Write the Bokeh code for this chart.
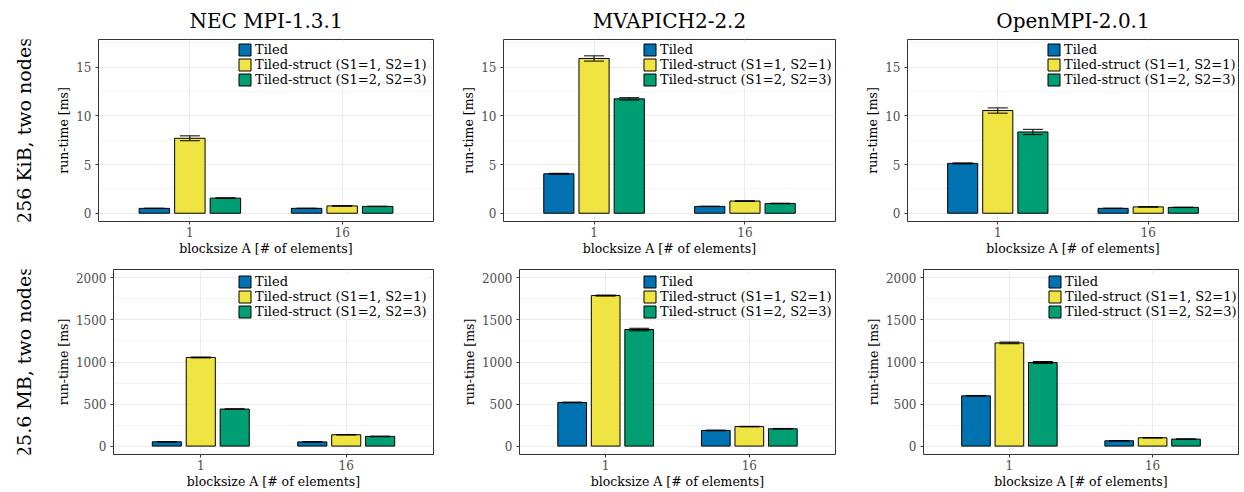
import math
from bokeh.plotting import figure
from bokeh.models import ColumnDataSource, FixedTicker, Whisker, TeeHead, Range1d
from bokeh.layouts import column, row
from bokeh.transform import dodge
from bokeh.embed import file_html
from bokeh.resources import INLINE
from bokeh.core.properties import value

# ---------------- data ----------------
blocksizes = ["1", "16"]
series = ["Tiled", "Tiled-struct (S1=1, S2=1)", "Tiled-struct (S1=2, S2=3)"]
colors = ["#0072B2", "#F0E442", "#009E73"]
libraries = ["NEC MPI-1.3.1", "MVAPICH2-2.2", "OpenMPI-2.0.1"]
row_labels = ["256 KiB, two nodes", "25.6 MB, two nodes"]
x_label = "blocksize A [# of elements]"
y_label = "run-time [ms]"

# 256 KiB, two nodes (mean run-time in ms per blocksize, and error half-width)
nec_256k_tiled = [0.50, 0.50]
nec_256k_s11 = [7.70, 0.75]
nec_256k_s23 = [1.55, 0.70]
nec_256k_err_tiled = [0.02, 0.02]
nec_256k_err_s11 = [0.25, 0.03]
nec_256k_err_s23 = [0.04, 0.02]

mva_256k_tiled = [4.05, 0.70]
mva_256k_s11 = [15.90, 1.25]
mva_256k_s23 = [11.75, 1.00]
mva_256k_err_tiled = [0.05, 0.02]
mva_256k_err_s11 = [0.27, 0.03]
mva_256k_err_s23 = [0.12, 0.03]

ompi_256k_tiled = [5.12, 0.50]
ompi_256k_s11 = [10.55, 0.65]
ompi_256k_s23 = [8.35, 0.60]
ompi_256k_err_tiled = [0.05, 0.02]
ompi_256k_err_s11 = [0.27, 0.02]
ompi_256k_err_s23 = [0.27, 0.02]

# 25.6 MB, two nodes
nec_25m_tiled = [51, 50]
nec_25m_s11 = [1054, 135]
nec_25m_s23 = [440, 115]
nec_25m_err_tiled = [3, 3]
nec_25m_err_s11 = [5, 3]
nec_25m_err_s23 = [4, 3]

mva_25m_tiled = [519, 186]
mva_25m_s11 = [1790, 232]
mva_25m_s23 = [1386, 206]
mva_25m_err_tiled = [4, 4]
mva_25m_err_s11 = [6, 3]
mva_25m_err_s23 = [15, 4]

ompi_25m_tiled = [598, 63]
ompi_25m_s11 = [1227, 99]
ompi_25m_s23 = [994, 83]
ompi_25m_err_tiled = [4, 3]
ompi_25m_err_s11 = [10, 3]
ompi_25m_err_s23 = [12, 3]

yticks_256k = [0, 5, 10, 15]
yminor_256k = [2.5, 7.5, 12.5, 17.5]
yrange_256k = (-0.85, 17.85)
yticks_25m = [0, 500, 1000, 1500, 2000]
yminor_25m = [250, 750, 1250, 1750]
yrange_25m = (-100, 2100)

panels = [
    [
        ((nec_256k_tiled, nec_256k_s11, nec_256k_s23), (nec_256k_err_tiled, nec_256k_err_s11, nec_256k_err_s23)),
        ((mva_256k_tiled, mva_256k_s11, mva_256k_s23), (mva_256k_err_tiled, mva_256k_err_s11, mva_256k_err_s23)),
        ((ompi_256k_tiled, ompi_256k_s11, ompi_256k_s23), (ompi_256k_err_tiled, ompi_256k_err_s11, ompi_256k_err_s23)),
    ],
    [
        ((nec_25m_tiled, nec_25m_s11, nec_25m_s23), (nec_25m_err_tiled, nec_25m_err_s11, nec_25m_err_s23)),
        ((mva_25m_tiled, mva_25m_s11, mva_25m_s23), (mva_25m_err_tiled, mva_25m_err_s11, mva_25m_err_s23)),
        ((ompi_25m_tiled, ompi_25m_s11, ompi_25m_s23), (ompi_25m_err_tiled, ompi_25m_err_s11, ompi_25m_err_s23)),
    ],
]
row_axes = [(yticks_256k, yminor_256k, yrange_256k), (yticks_25m, yminor_25m, yrange_25m)]

# ---------------- layout geometry ----------------
FONT = "DejaVu Serif"
LABEL_W = 35
row_heights = [258, 234]
row_borders = [(38, 36), (11, 38)]          # (top, bottom)
col_widths = [423, 404, 382]
col_borders = [
    [(63, 25), (42, 27), (41, 6)],
    [(78, 25), (58, 27), (56, 6)],
]
offsets = [-0.7 / 3, 0.0, 0.7 / 3]
GRID = "#EBEBEB"
LEG_ROW = 15


def make_panel(r, c):
    means, errs = panels[r][c]
    yticks, yminor, yrange = row_axes[r]
    top, bottom = row_borders[r]
    left, right = col_borders[r][c]
    W, H = col_widths[c], row_heights[r]
    frame_w = W - left - right
    frame_h = H - top - bottom

    p = figure(width=W, height=H, x_range=Range1d(0.4, 2.6), y_range=Range1d(*yrange),
               output_backend="svg", toolbar_location=None,
               min_border_left=left, min_border_right=right,
               min_border_top=top, min_border_bottom=bottom)
    p.background_fill_color = "white"
    p.border_fill_color = "white"
    p.outline_line_color = "#333333"
    p.outline_line_width = 1

    data = {"x": [i + 1 for i in range(len(blocksizes))]}
    for i in range(3):
        data[f"m{i}"] = means[i]
        data[f"lo{i}"] = [m - e for m, e in zip(means[i], errs[i])]
        data[f"hi{i}"] = [m + e for m, e in zip(means[i], errs[i])]
    src = ColumnDataSource(data)

    for i in range(3):
        p.vbar(x=dodge("x", offsets[i], range=p.x_range), top=f"m{i}", bottom=0, width=0.2,
               source=src, fill_color=colors[i], line_color="black", line_width=1,
               legend_label=series[i])
    for i in range(3):
        w = Whisker(source=src, base=dodge("x", offsets[i], range=p.x_range),
                    upper=f"hi{i}", lower=f"lo{i}", line_color="black", line_width=1,
                    level="annotation")
        w.upper_head = TeeHead(size=20, line_color="black", line_width=1)
        w.lower_head = TeeHead(size=20, line_color="black", line_width=1)
        p.add_layout(w)

    # axes
    p.xaxis.ticker = FixedTicker(ticks=[1, 2])
    p.xaxis.major_label_overrides = {i + 1: b for i, b in enumerate(blocksizes)}
    p.yaxis.ticker = FixedTicker(ticks=yticks, minor_ticks=yminor)
    for ax in (p.xaxis[0], p.yaxis[0]):
        ax.axis_line_color = None
        ax.major_tick_line_color = "#333333"
        ax.major_tick_in = 0
        ax.major_tick_out = 3
        ax.minor_tick_line_color = None
        ax.major_label_text_font = FONT
        ax.major_label_text_font_size = "12px"
        ax.major_label_text_color = "#4D4D4D"
        ax.major_label_standoff = 3
        ax.axis_label_text_font = FONT
        ax.axis_label_text_font_size = "12.5px"
        ax.axis_label_text_font_style = "normal"
        ax.axis_label_text_color = "black"
    p.xaxis.axis_label = x_label
    p.xaxis.major_label_standoff = 2
    p.xaxis.axis_label_standoff = 1
    p.yaxis.axis_label = y_label
    p.yaxis.axis_label_standoff = 2

    # grids
    p.xgrid.ticker = FixedTicker(ticks=[1, 2])
    p.xgrid.grid_line_color = GRID
    p.xgrid.grid_line_width = 1
    p.ygrid.grid_line_color = GRID
    p.ygrid.grid_line_width = 1
    p.ygrid.minor_grid_line_color = GRID
    p.ygrid.minor_grid_line_width = 0.6

    # legend (location = bottom-left corner of legend box, measured from frame's bottom-left)
    lg = p.legend[0]
    lg.location = (frame_w - 196, frame_h - 5 - 3 * LEG_ROW)
    lg.padding = 0
    lg.margin = 0
    lg.spacing = 0
    lg.border_line_color = None
    lg.background_fill_color = "white"
    lg.background_fill_alpha = 1
    lg.glyph_width = 15
    lg.glyph_height = LEG_ROW
    lg.label_height = LEG_ROW
    lg.label_standoff = 3
    lg.label_text_font = FONT
    lg.label_text_font_size = "13px"
    lg.label_text_color = "black"
    lg.label_text_baseline = "middle"

    if r == 0:
        p.title.text = libraries[c]
        p.title.align = "center"
        p.title.text_font = FONT
        p.title.text_font_size = "20px"
        p.title.text_font_style = "normal"
        p.title.text_color = "black"
        p.title.standoff = 13
    return p


def make_row_label(r):
    top, bottom = row_borders[r]
    p = figure(width=LABEL_W, height=row_heights[r], x_range=Range1d(0, 1), y_range=Range1d(0, 1),
               x_axis_type=None, y_axis_type=None, output_backend="svg", toolbar_location=None,
               min_border_left=0, min_border_right=0, min_border_top=top, min_border_bottom=bottom)
    p.outline_line_color = None
    p.grid.visible = False
    p.background_fill_color = "white"
    p.border_fill_color = "white"
    p.text(x=[0.68], y=[0.5], text=[row_labels[r]], angle=math.pi / 2,
           text_align="center", text_baseline="middle",
           text_font=value(FONT), text_font_size=value("19px"), text_color="black")
    return p


rows = []
for r in range(2):
    rows.append(row(make_row_label(r), *[make_panel(r, c) for c in range(3)]))
layout = column(*rows)

open("out.html", "w").write(file_html(layout, INLINE))
